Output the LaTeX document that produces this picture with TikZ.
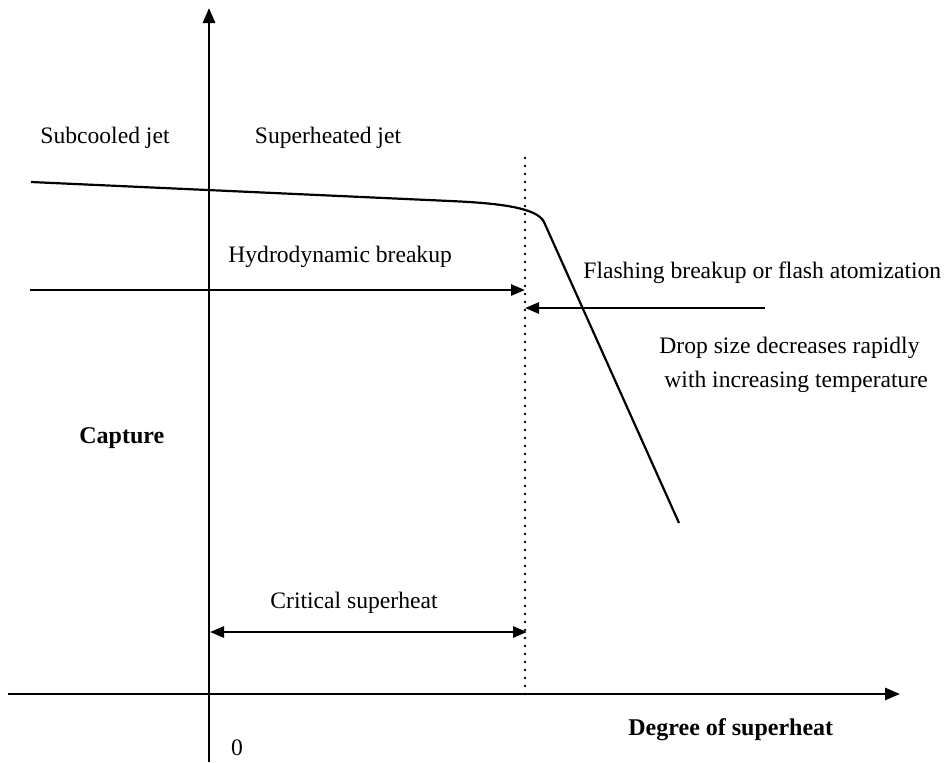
\documentclass[tikz,border=0pt]{standalone}
\usepackage{fontspec}
\setmainfont{Liberation Serif}
\usetikzlibrary{arrows.meta}
\tikzset{
  axis/.style={-{Triangle[length=7.5pt,width=6pt]}, line width=1.4pt},
  guide/.style={-{Triangle[length=7pt,width=5.5pt]}, line width=1.3pt},
  both guide/.style={{Triangle[length=7pt,width=5.5pt]}-{Triangle[length=7pt,width=5.5pt]}, line width=1.3pt},
  curve/.style={line width=1.1pt, line join=round},
  dotline/.style={line width=1.3pt, dash pattern=on 0pt off 4pt, line cap=round},
  lbl/.style={inner sep=0pt, font=\fontsize{11.8}{17}\selectfont},
  bold lbl/.style={inner sep=0pt, font=\fontsize{12}{17}\selectfont\bfseries},
}

\begin{document}
\begin{tikzpicture}[x=0.5pt,y=-0.5pt]
  \useasboundingbox (0,0) rectangle (948,762);

  % Axes
  \coordinate (ybot) at (209,762);
  \coordinate (ytop) at (209,8);
  \coordinate (xleft) at (8,694);
  \coordinate (xright) at (900,694);
  \draw[axis] (ybot) -- (ytop);
  \draw[axis] (xleft) -- (xright);

  % Critical superheat boundary
  \coordinate (crittop) at (525,158);
  \coordinate (critbot) at (525,694);
  \draw[dotline] (crittop) -- (critbot);

  % Drop size curve
  \coordinate (c0) at (31,182);
  \coordinate (c1) at (450,201);
  \coordinate (knee) at (544,222);
  \coordinate (c2) at (679,523);
  \draw[curve] (c0) -- (c1) .. controls (495,203) and (537,207) .. (knee) -- (c2);

  % Breakup regimes
  \coordinate (hydrostart) at (30,290);
  \coordinate (hydroend) at (525,290);
  \draw[guide] (hydrostart) -- (hydroend);
  \coordinate (flashstart) at (765,308);
  \coordinate (flashend) at (525,308);
  \draw[guide] (flashstart) -- (flashend);

  % Critical superheat span
  \coordinate (spanleft) at (210,632);
  \coordinate (spanright) at (527,632);
  \draw[both guide] (spanleft) -- (spanright);

  % Labels
  \node[lbl] (subcooled) at (105,138) {Subcooled jet};
  \node[lbl] (superheated) at (328,138) {Superheated jet};
  \node[lbl, anchor=west] (hydro) at (228,257) {Hydrodynamic breakup};
  \node[lbl, anchor=west] (flash) at (583,273) {Flashing breakup or flash atomization};
  \node[lbl, anchor=west, align=left] (dropsize) at (659,365)
    {Drop size decreases rapidly\\\hspace{2.5pt}with increasing temperature};
  \node[bold lbl, anchor=west] (capture) at (79,438) {Capture};
  \node[lbl] (critical) at (354,603) {Critical superheat};
  \node[bold lbl, anchor=west] (degree) at (628,730) {Degree of superheat};
  \node[lbl] (zero) at (237,748) {0};
\end{tikzpicture}
\end{document}
